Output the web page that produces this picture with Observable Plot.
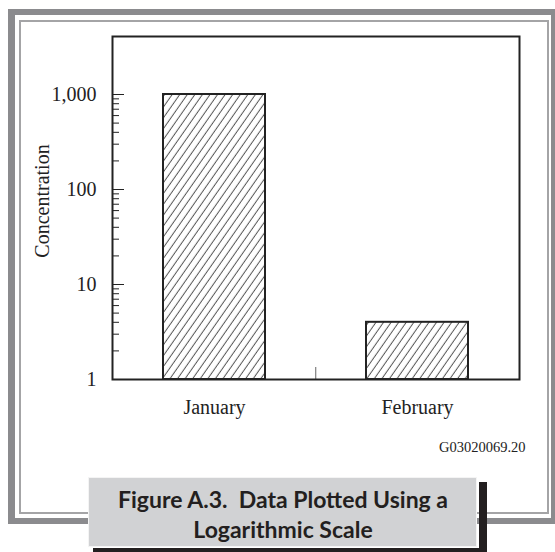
<!DOCTYPE html>
<html>
<head>
<meta charset="utf-8">
<script src="https://cdn.jsdelivr.net/npm/d3@7"></script>
<script src="https://cdn.jsdelivr.net/npm/@observablehq/plot@0.6"></script>
<style>
  html, body { margin: 0; padding: 0; background: #fff; }
  #wrap { position: relative; width: 555px; height: 552px; overflow: hidden; background: #fff; }
  .band { position: absolute; background: #8b8b8e; }
  #inner { position: absolute; left: 19px; top: 20px; width: 526px; height: 490px; border: 2px solid #a4a4a6; }
  #chart { position: absolute; left: 0; top: 0; }
  #code { position: absolute; left: 439px; top: 439px; font-family: "Liberation Serif", serif; font-size: 14.5px; color: #222; white-space: nowrap; }
  #capbox { position: absolute; left: 88px; top: 477px; width: 389px; height: 70px; background: #d1d2d4; border: 1px solid #f4f4f4; box-sizing: border-box; }
  #caption { position: absolute; left: 88px; top: 484px; width: 390px; text-align: center; font-family: "Lato", sans-serif; font-weight: 700; font-size: 23px; line-height: 30px; color: #231f20; white-space: pre; }
  .shadow { position: absolute; background: #231f20; }
</style>
</head>
<body>
<div id="wrap">
  <div class="band" style="left:8px;top:9px;width:7px;height:515px;"></div>
  <div class="band" style="left:8px;top:9px;width:560px;height:6px;"></div>
  <div class="band" style="left:551px;top:9px;width:7px;height:515px;"></div>
  <div class="band" style="left:8px;top:518px;width:560px;height:6px;"></div>
  <div id="inner"></div>
  <div id="chart"></div>
  <div id="code">G03020069.20</div>
  <div class="shadow" style="left:479px;top:482px;width:8px;height:70px;"></div>
  <div class="shadow" style="left:93px;top:548px;width:394px;height:4px;"></div>
  <div id="capbox"></div>
  <div id="caption">Figure A.3.  Data Plotted Using a
Logarithmic Scale</div>
</div>
<script>
// ---- data ----
const months = ["January", "February"];
const concentration = [1000, 4];
const majorTicks = [1, 10, 100, 1000];
const minorTicks = [2, 3, 4, 5, 6, 7, 8, 9, 20, 30, 40, 50, 60, 70, 80, 90, 200, 300, 400, 500, 600, 700, 800, 900];
const yDomain = [1, 4080];
const yTitle = "Concentration";

const data = months.map((m, i) => ({month: m, value: concentration[i]}));

const chart = Plot.plot({
  width: 555,
  height: 470,
  marginLeft: 112,
  marginRight: 36,
  marginTop: 36,
  marginBottom: 91,
  style: {background: "transparent", fontFamily: "Liberation Serif, serif", fontSize: "20px", color: "#222", overflow: "visible"},
  x: {domain: months, paddingInner: 0.5, paddingOuter: 0.25},
  y: {type: "log", domain: yDomain},
  marks: [
    Plot.barY(data, {x: "month", y1: yDomain[0], y2: "value", fill: "url(#hatch)", stroke: "#222", strokeWidth: 2}),
    Plot.ruleX([months[1]], {dx: -101.75, insetTop: 331, stroke: "#666", strokeWidth: 1}),
    // inward minor ticks
    Plot.axisY(minorTicks, {tickSize: 7, dx: 7, tickFormat: () => "", label: null, stroke: "#222"}),
    // inward major ticks
    Plot.axisY(majorTicks, {tickSize: 12, dx: 12, tickFormat: () => "", label: null, stroke: "#222"}),
    // major labels
    Plot.axisY(majorTicks, {tickSize: 0, tickPadding: 16, tickFormat: d3.format(","), label: null}),
    Plot.text([yTitle], {frameAnchor: "left", textAnchor: "middle", lineAnchor: "middle", rotate: -90, dx: -70, dy: -7, fontSize: 20, fill: "#222"}),
    Plot.axisX({tickSize: 0, tickPadding: 20, label: null}),
    Plot.frame({stroke: "#222", strokeWidth: 2})
  ]
});

const ns = "http://www.w3.org/2000/svg";
const defs = document.createElementNS(ns, "defs");
defs.innerHTML = '<pattern id="hatch" patternUnits="userSpaceOnUse" width="6.2" height="6.2" patternTransform="rotate(35)">' +
  '<rect width="6.2" height="6.2" fill="#fff"/>' +
  '<line x1="3" y1="0" x2="3" y2="6.2" stroke="#444" stroke-width="0.9"/></pattern>';
chart.insertBefore(defs, chart.firstChild);
document.getElementById("chart").appendChild(chart);
</script>
</body>
</html>
